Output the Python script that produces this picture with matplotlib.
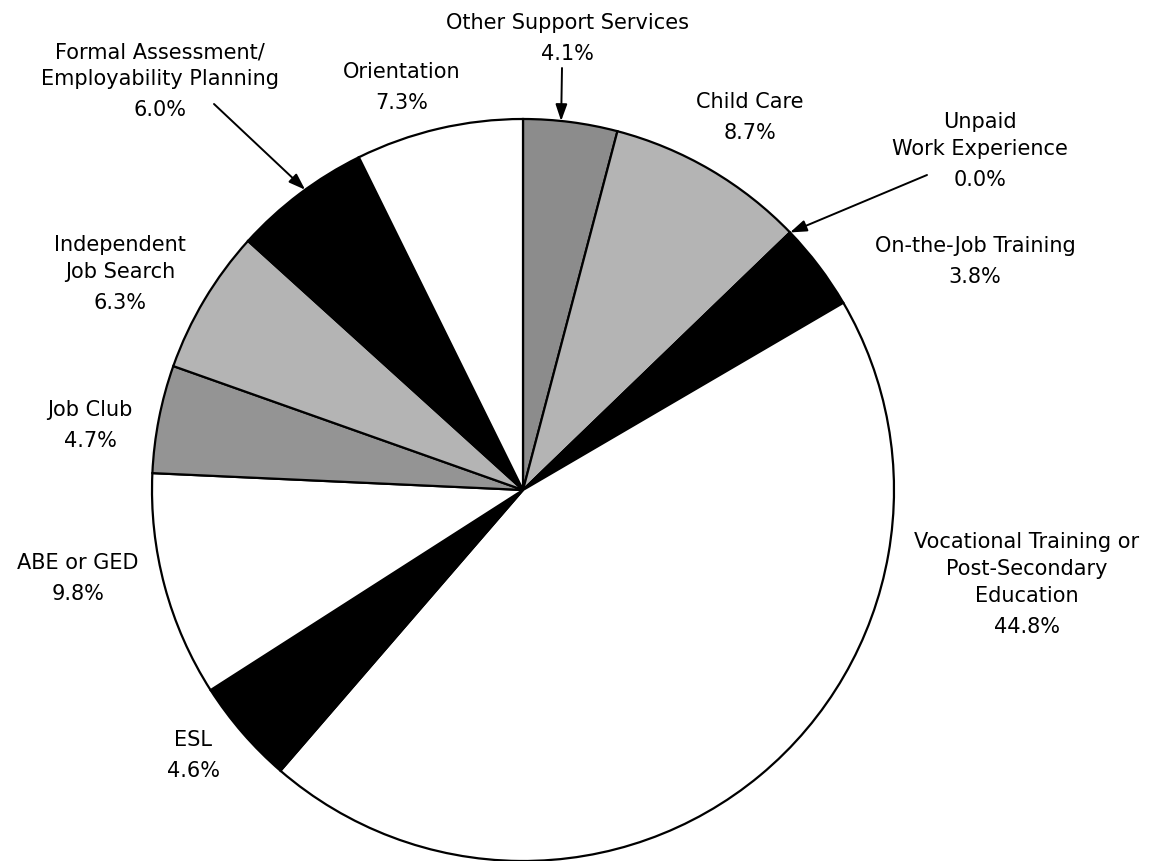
import numpy as np
import matplotlib
matplotlib.use("Agg")
import matplotlib.pyplot as plt

# slices, clockwise from 12 o'clock
names = ["Other Support Services", "Child Care", "Unpaid\nWork Experience",
         "On-the-Job Training", "Vocational Training or\nPost-Secondary\nEducation",
         "ESL", "ABE or GED", "Job Club", "Independent\nJob Search",
         "Formal Assessment/\nEmployability Planning", "Orientation"]
shares = [4.1, 8.7, 0.0, 3.8, 44.8, 4.6, 9.8, 4.7, 6.3, 6.0, 7.3]
fills = ["#8c8c8c", "#b4b4b4", "#ffffff", "#000000", "#ffffff",
         "#000000", "#ffffff", "#949494", "#b4b4b4", "#000000", "#ffffff"]

W, H = 1149, 861
fig = plt.figure(figsize=(W / 100, H / 100), dpi=100)
ax = fig.add_axes([0, 0, 1, 1])

cx, cy, r = 523, H - 490, 371
wedges, _ = ax.pie(shares, colors=fills, startangle=90, counterclock=False,
                   center=(cx, cy), radius=r, frame=True,
                   wedgeprops=dict(edgecolor="black", linewidth=1.6))
ax.set_xlim(0, W)
ax.set_ylim(0, H)
ax.set_aspect("equal")
ax.axis("off")

# label anchors in pixel coords (x, y of first line)
label_pos = {
    0: (567, 23), 1: (750, 102), 2: (980, 122), 3: (975, 246),
    4: (1027, 542), 5: (193, 740), 6: (78, 563), 7: (90, 410),
    8: (120, 245), 9: (160, 52), 10: (402, 72),
}
fs = 15
lh = 27
for i, (px, py) in label_pos.items():
    lines = names[i].split("\n")
    for k, ln in enumerate(lines):
        ax.text(px, H - (py + k * lh), ln, ha="center", va="center",
                fontsize=fs, family="DejaVu Sans")
    ax.text(px, H - (py + (len(lines) - 1) * lh + 31), f"{shares[i]:.1f}%",
            ha="center", va="center", fontsize=fs, family="DejaVu Sans")


def rim(i, frac):
    w = wedges[i]
    a = np.deg2rad(w.theta1 + (w.theta2 - w.theta1) * frac)
    return cx + r * np.cos(a), cy + r * np.sin(a)


# arrows: (slice, fraction across wedge, tail in pixels)
arrows = [(0, 0.6, (562, 68)), (2, 0.0, (927, 175)), (9, 0.45, (214, 104))]
for i, frac, (tx, ty) in arrows:
    ax.annotate("", xy=rim(i, frac), xytext=(tx, H - ty),
                arrowprops=dict(arrowstyle="-|>,head_length=1.0,head_width=0.35",
                                color="black", lw=1.4, shrinkA=0, shrinkB=0))

fig.savefig("out.png", dpi=100, facecolor="white")
